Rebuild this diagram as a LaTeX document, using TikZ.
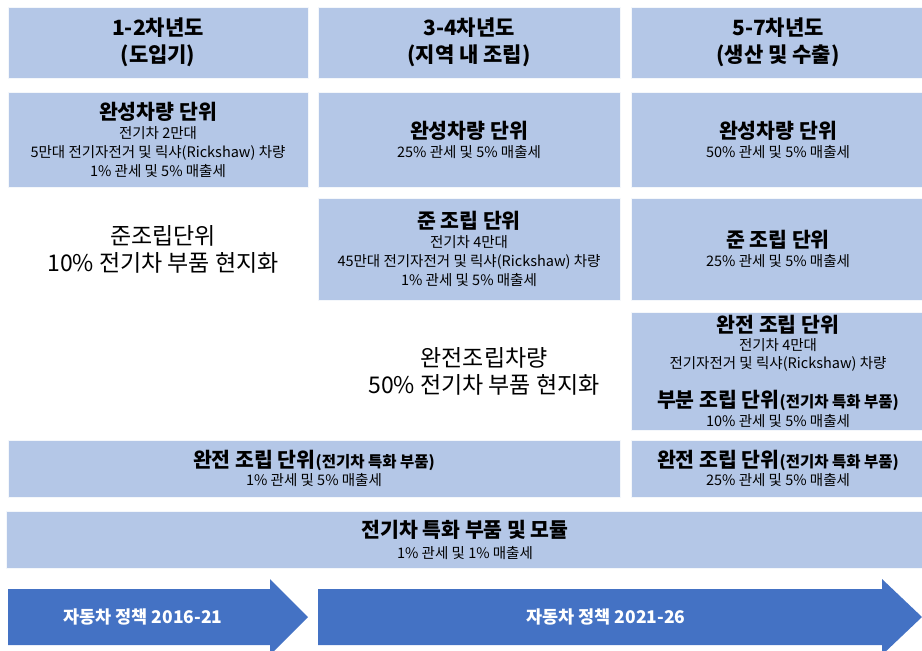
\documentclass[tikz,border=0pt]{standalone}
\usepackage{fontspec}
\setmainfont{Noto Sans CJK KR}
\definecolor{boxblue}{HTML}{B4C7E7}
\definecolor{arrblue}{HTML}{4472C4}
\begin{document}
\begin{tikzpicture}[x=1pt,y=-1pt,
  cell/.style={fill=boxblue, draw=white!85!boxblue, line width=0.8pt, inner sep=0pt, outer sep=0pt, align=center, text=black, font=\fontsize{14.5}{19}\selectfont},
  headcell/.style={cell, font=\bfseries\fontsize{21}{27}\selectfont},
  plain/.style={align=center, font=\fontsize{23}{27}\selectfont},
  arrtext/.style={text=white, font=\bfseries\fontsize{17.5}{20}\selectfont}]
\newcommand{\ttl}[1]{{\fontsize{20.5}{22}\selectfont\bfseries #1}}
\newcommand{\smb}[1]{{\fontsize{15.5}{18}\selectfont\bfseries #1}}
\useasboundingbox (0,0) rectangle (922,651);
\clip (0,0) rectangle (922,651);
% headers
\node[headcell, minimum width=300, minimum height=71] (h1) at (158,42.5) {1-2차년도\\(도입기)};
\node[headcell, minimum width=302, minimum height=71] (h2) at (469,42.5) {3-4차년도\\(지역 내 조립)};
\node[headcell, minimum width=294, minimum height=71] (h3) at (778,42.5) {5-7차년도\\(생산 및 수출)};
% row 2
\node[cell, minimum width=300, minimum height=95] (c1) at (158,139.5) {\ttl{완성차량 단위}\\전기차 2만대\\5만대 전기자전거 및 릭샤(Rickshaw) 차량\\1\% 관세 및 5\% 매출세};
\node[cell, minimum width=302, minimum height=95] (c2) at (469,139.5) {\ttl{완성차량 단위}\\25\% 관세 및 5\% 매출세};
\node[cell, minimum width=294, minimum height=95] (c3) at (778,139.5) {\ttl{완성차량 단위}\\50\% 관세 및 5\% 매출세};
% row 3
\node[plain] (p1) at (163,249) {준조립단위\\10\% 전기차 부품 현지화};
\node[cell, minimum width=302, minimum height=102] (s2) at (469,249) {\ttl{준 조립 단위}\\전기차 4만대\\45만대 전기자전거 및 릭샤(Rickshaw) 차량\\1\% 관세 및 5\% 매출세};
\node[cell, minimum width=294, minimum height=102] (s3) at (778,249) {\ttl{준 조립 단위}\\25\% 관세 및 5\% 매출세};
% row 4
\node[plain] (p2) at (484,371.5) {완전조립차량\\50\% 전기차 부품 현지화};
\node[cell, minimum width=294, minimum height=118, font=\fontsize{14.5}{18}\selectfont] (f3) at (778,371) {\ttl{완전 조립 단위}\\전기차 4만대\\전기자전거 및 릭샤(Rickshaw) 차량\\[18pt]\ttl{부분 조립 단위}\smb{(전기차 특화 부품)}\\[1pt]10\% 관세 및 5\% 매출세};
% row 5
\node[cell, minimum width=612, minimum height=57, font=\fontsize{14.5}{18}\selectfont] (b12) at (314,468.5) {\ttl{완전 조립 단위}\smb{(전기차 특화 부품)}\\1\% 관세 및 5\% 매출세};
\node[cell, minimum width=294, minimum height=57, font=\fontsize{14.5}{18}\selectfont] (b3) at (778,468.5) {\ttl{완전 조립 단위}\smb{(전기차 특화 부품)}\\25\% 관세 및 5\% 매출세};
% row 6
\node[cell, minimum width=918, minimum height=57, font=\fontsize{14.5}{21}\selectfont] (ev) at (465,539.5) {\ttl{전기차 특화 부품 및 모듈}\\1\% 관세 및 1\% 매출세};
% arrows
\fill[arrblue] (8,589) -- (270,589) -- (270,579) -- (308,617) -- (270,655) -- (270,645) -- (8,645) -- cycle;
\fill[arrblue] (318,589) -- (882,589) -- (882,579) -- (922,617) -- (882,655) -- (882,645) -- (318,645) -- cycle;
\node[arrtext] (a1) at (143,617) {자동차 정책 2016-21};
\node[arrtext] (a2) at (606,617) {자동차 정책 2021-26};
\end{tikzpicture}
\end{document}
